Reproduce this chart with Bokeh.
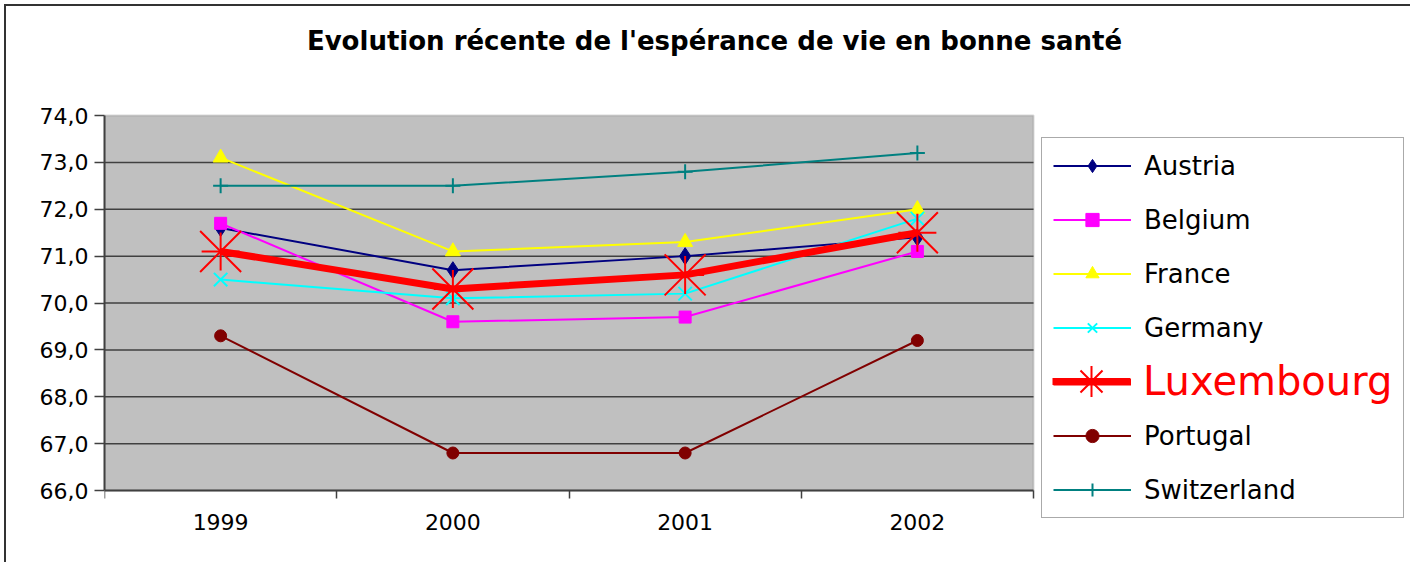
from bokeh.plotting import figure
from bokeh.models import Range1d, FixedTicker, Legend, LegendItem, BoxAnnotation, Label
from bokeh.embed import file_html
from bokeh.resources import INLINE

# ---- data ----
years = [1999, 2000, 2001, 2002]
austria = [71.6, 70.7, 71.0, 71.4]
belgium = [71.7, 69.6, 69.7, 71.1]
france = [73.1, 71.1, 71.3, 72.0]
germany = [70.5, 70.1, 70.2, 71.8]
luxembourg = [71.1, 70.3, 70.6, 71.5]
portugal = [69.3, 66.8, 66.8, 69.2]
switzerland = [72.5, 72.5, 72.8, 73.2]

y_ticks = [66, 67, 68, 69, 70, 71, 72, 73, 74]
y_tick_labels = ["66,0", "67,0", "68,0", "69,0", "70,0", "71,0", "72,0", "73,0", "74,0"]
year_bounds = [1998.5, 1999.5, 2000.5, 2001.5, 2002.5]

title_text = "Evolution récente de l'espérance de vie en bonne santé"
FONT = "DejaVu Sans"

# ---- geometry (pixels) ----
FRAME_LEFT, FRAME_BOTTOM = 98, 19          # borders inside the canvas
PLOT_W, PLOT_H = 929, 375                   # grey plot area size
px_per_year = PLOT_W / (year_bounds[-1] - year_bounds[0])
px_per_unit = PLOT_H / (y_ticks[-1] - y_ticks[0])
CANVAS_W, CANVAS_H = 1406, 558
frame_w = CANVAS_W - FRAME_LEFT
frame_h = CANVAS_H - FRAME_BOTTOM
below_px = 55                               # frame space under the 66,0 line
x_end = year_bounds[0] + frame_w / px_per_year
y_start = y_ticks[0] - below_px / px_per_unit
y_end = y_start + frame_h / px_per_unit

p = figure(width=CANVAS_W, height=CANVAS_H, output_backend="svg", toolbar_location=None,
           title_location=None,
           x_range=Range1d(year_bounds[0], x_end),
           y_range=Range1d(y_start, y_end))
p.min_border_left = FRAME_LEFT
p.min_border_top = 0
p.min_border_right = 0
p.min_border_bottom = FRAME_BOTTOM
p.styles = {"margin-left": "4px", "margin-top": "4px",
            "border-top": "2px solid #333333", "border-left": "2px solid #333333"}

p.background_fill_color = "white"
p.border_fill_color = "white"
p.outline_line_color = None

# chart title (text placed above the plot area)
title_x = year_bounds[0] + 610 / px_per_year
title_y = y_ticks[-1] + 74.5 / px_per_unit
p.add_layout(Label(x=title_x, y=title_y, text=title_text, text_align="center",
                   text_baseline="alphabetic", text_font=FONT, text_font_size="26px",
                   text_font_style="bold", text_color="black"))

plot_area = BoxAnnotation(left=year_bounds[0], right=year_bounds[-1],
                          bottom=y_ticks[0], top=y_ticks[-1],
                          fill_color="#C0C0C0", fill_alpha=1.0,
                          line_color="#808080", line_width=2, level="underlay")
p.add_layout(plot_area)

# axes
p.yaxis.ticker = FixedTicker(ticks=y_ticks)
p.yaxis.bounds = (y_ticks[0], y_ticks[-1])
p.yaxis.major_label_overrides = {t: l for t, l in zip(y_ticks, y_tick_labels)}
p.yaxis.major_tick_out = 10
p.yaxis.major_tick_in = 0
p.yaxis.minor_tick_out = 0
p.yaxis.minor_tick_in = 0
p.yaxis.major_label_standoff = 6
p.yaxis.axis_line_color = "#404040"
p.yaxis.axis_line_width = 2
p.yaxis.major_tick_line_color = "#404040"
p.yaxis.major_tick_line_width = 1.5

p.xaxis.fixed_location = y_ticks[0]
p.xaxis.bounds = (year_bounds[0], year_bounds[-1])
p.xaxis.ticker = FixedTicker(ticks=years, minor_ticks=year_bounds)
p.xaxis.major_tick_out = 0
p.xaxis.major_tick_in = 0
p.xaxis.minor_tick_out = 8
p.xaxis.minor_tick_in = 0
p.xaxis.minor_tick_line_color = "#404040"
p.xaxis.minor_tick_line_width = 1.5
p.xaxis.major_label_standoff = 15
p.xaxis.axis_line_color = "#404040"
p.xaxis.axis_line_width = 2

for ax in (p.xaxis, p.yaxis):
    ax.major_label_text_font = FONT
    ax.major_label_text_font_size = "22px"
    ax.major_label_text_color = "black"

p.xgrid.visible = False
p.ygrid.visible = False

# horizontal gridlines across the plot area only
p.segment(x0=year_bounds[0], x1=year_bounds[-1], y0=y_ticks[1:-1], y1=y_ticks[1:-1],
          line_color="#404040", line_width=1.5)

# series
r_a_l = p.line(years, austria, line_color="#000080", line_width=2)
r_a_s = p.scatter(years, austria, marker="diamond", size=17, fill_color="#000080", line_color="#000080")

r_b_l = p.line(years, belgium, line_color="#FF00FF", line_width=2)
r_b_s = p.scatter(years, belgium, marker="square", size=12, fill_color="#FF00FF", line_color="#FF00FF")

r_f_l = p.line(years, france, line_color="#FFFF00", line_width=2)
r_f_s = p.scatter(years, france, marker="triangle", size=15, fill_color="#FFFF00", line_color="#FFFF00")

r_g_l = p.line(years, germany, line_color="#00FFFF", line_width=2)
r_g_s = p.scatter(years, germany, marker="x", size=19, line_color="#00FFFF", line_width=2)

r_l_l = p.line(years, luxembourg, line_color="#FF0000", line_width=7)
r_l_x = p.scatter(years, luxembourg, marker="x", size=58, line_color="#FF0000", line_width=2)
r_l_c = p.scatter(years, luxembourg, marker="cross", size=38, line_color="#FF0000", line_width=2)

r_p_l = p.line(years, portugal, line_color="#800000", line_width=2)
r_p_s = p.scatter(years, portugal, marker="circle", size=12, fill_color="#800000", line_color="#800000")

r_s_l = p.line(years, switzerland, line_color="#008080", line_width=2)
r_s_s = p.scatter(years, switzerland, marker="cross", size=15, line_color="#008080", line_width=2)

items = [
    LegendItem(label="Austria", renderers=[r_a_l, r_a_s]),
    LegendItem(label="Belgium", renderers=[r_b_l, r_b_s]),
    LegendItem(label="France", renderers=[r_f_l, r_f_s]),
    LegendItem(label="Germany", renderers=[r_g_l, r_g_s]),
    LegendItem(label=" ", renderers=[r_l_l]),
    LegendItem(label="Portugal", renderers=[r_p_l, r_p_s]),
    LegendItem(label="Switzerland", renderers=[r_s_l, r_s_s]),
]
legend = Legend(items=items, location=(937, 27), margin=0, padding=11,
                glyph_width=78, glyph_height=33, label_height=33, spacing=21,
                label_standoff=13, label_width=248,
                label_text_font=FONT, label_text_font_size="26px", label_text_color="black",
                border_line_color="#555555", border_line_width=1.5,
                background_fill_color="white", background_fill_alpha=1.0)
p.add_layout(legend, "center")

legend_lux = Legend(items=[LegendItem(label="Luxembourg", renderers=[r_l_l, r_l_x, r_l_c])],
                    location=(937, 114), margin=0, padding=11,
                    glyph_width=78, glyph_height=78, label_height=78, spacing=0,
                    label_standoff=13,
                    label_text_font=FONT, label_text_font_size="40px", label_text_color="#FF0000",
                    border_line_alpha=0, background_fill_alpha=0)
p.add_layout(legend_lux, "center")

open("out.html", "w").write(file_html(p, INLINE))
